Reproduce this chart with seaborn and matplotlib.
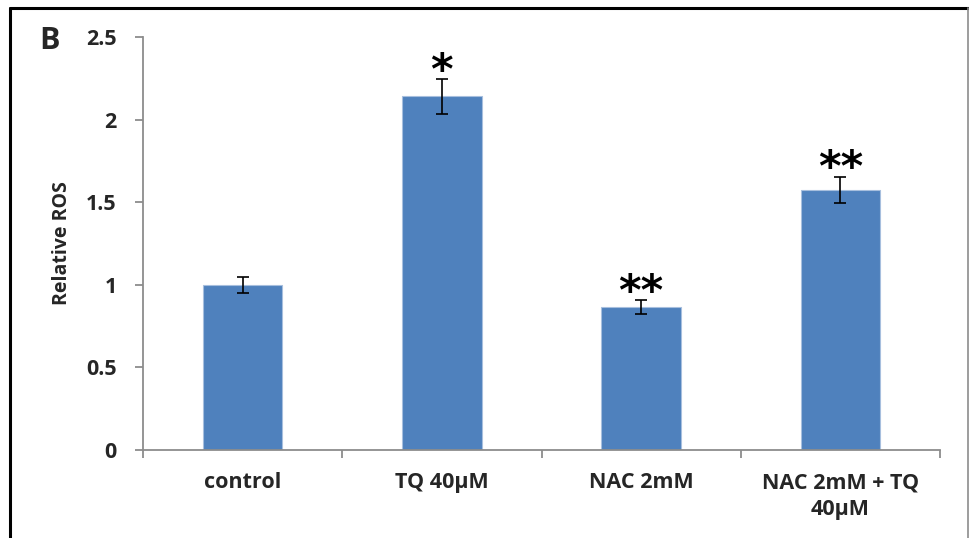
import matplotlib
matplotlib.use("Agg")
import matplotlib.pyplot as plt
import seaborn as sns
import pandas as pd
from matplotlib.lines import Line2D
from matplotlib.ticker import FixedLocator

# Relative ROS per treatment, with standard error
categories = ["control", "TQ 40µM", "NAC 2mM", "NAC 2mM + TQ\n40µM"]
values = [1.00, 2.14, 0.865, 1.575]
errors = [0.05, 0.105, 0.044, 0.08]
marks = ["", "*", "**", "**"]
y_ticks = [0, 0.5, 1, 1.5, 2, 2.5]
y_tick_labels = ["0", "0.5", "1", "1.5", "2", "2.5"]

df = pd.DataFrame({"group": categories, "ros": values})

sns.set_theme(style="white")
plt.rcParams["font.family"] = ["Open Sans", "DejaVu Sans"]
plt.rcParams["font.weight"] = "bold"

fig = plt.figure(figsize=(9.7, 5.38), dpi=100)
ax = fig.add_axes([143 / 970, 1 - 450 / 538, (940 - 143) / 970, (450 - 37) / 538])

bar_color = "#4F81BD"
sns.barplot(data=df, x="group", y="ros", color=bar_color, saturation=1,
            width=0.4, errorbar=None, edgecolor="#A7BFDE", linewidth=0.8, ax=ax)
ax.errorbar(range(len(values)), values, yerr=errors, fmt="none",
            ecolor="black", elinewidth=1.2, capsize=4.5, capthick=1.2, zorder=5)

for i, (v, e, m) in enumerate(zip(values, errors, marks)):
    if m:
        ax.annotate(m, xy=(i, v + e), xytext=(0, -10), textcoords="offset points",
                    ha="center", va="bottom", fontsize=31, fontweight="bold",
                    family="DejaVu Sans", color="black")

ax.set_xlim(-0.5, len(categories) - 0.5)
ax.set_ylim(0, 2.5)
ax.set_yticks(y_ticks)
ax.set_yticklabels(y_tick_labels, fontsize=15.5, fontweight="bold")
ax.set_xticks(range(len(categories)))
ax.set_xticklabels(categories, fontsize=15.5, fontweight="bold", linespacing=1.35)
ax.xaxis.set_minor_locator(FixedLocator([i - 0.5 for i in range(len(categories) + 1)]))
ax.tick_params(axis="x", which="major", length=0, pad=16)
ax.tick_params(axis="x", which="minor", length=6, width=1.3, color="#8C8C8C",
               direction="out", bottom=True)
ax.tick_params(axis="y", which="major", length=6, width=1.3, color="#8C8C8C",
               direction="out", left=True, pad=13)
ax.set_xlabel("")
ax.set_ylabel("Relative ROS", fontsize=14, fontweight="bold", labelpad=10)

for side in ["top", "right"]:
    ax.spines[side].set_visible(False)
for side in ["left", "bottom"]:
    ax.spines[side].set_color("#8C8C8C")
    ax.spines[side].set_linewidth(1.3)

# panel letter
fig.text(39 / 970, 1 - 41 / 538, "B", fontsize=22, fontweight="bold",
         va="center", ha="left")

# surrounding frame
W, H = 970, 538
fig.add_artist(Line2D([10 / W, 10 / W], [0, 1 - 8 / H], transform=fig.transFigure,
                      color="black", linewidth=2.2))
fig.add_artist(Line2D([10 / W, 969 / W], [1 - 8 / H, 1 - 8 / H], transform=fig.transFigure,
                      color="black", linewidth=2.2))
fig.add_artist(Line2D([968.5 / W, 968.5 / W], [0, 1 - 8 / H], transform=fig.transFigure,
                      color="#8C8C8C", linewidth=1.2))

fig.savefig("out.png", dpi=100)
